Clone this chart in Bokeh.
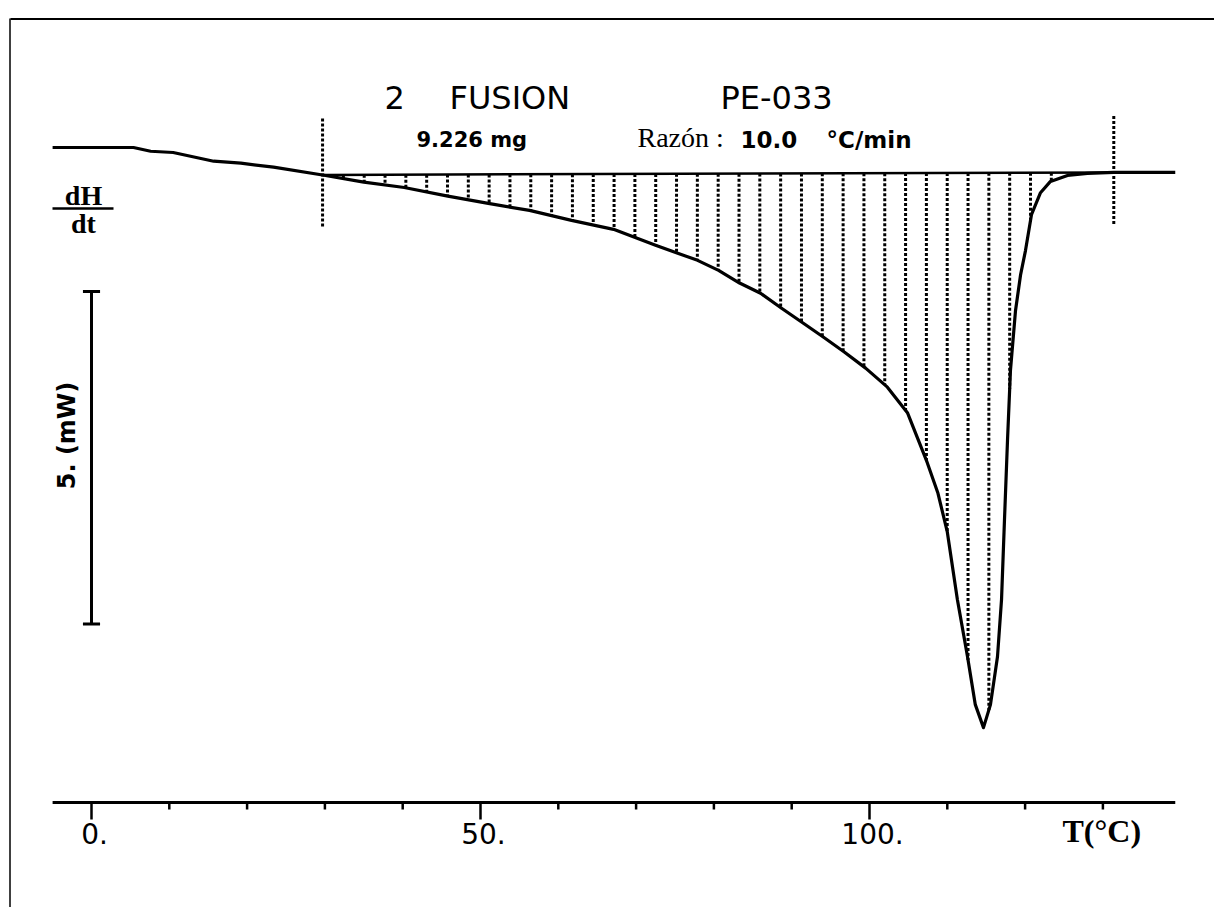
import numpy as np
from bokeh.plotting import figure
from bokeh.models import Label, Range1d
from bokeh.core.properties import value
from bokeh.embed import file_html
from bokeh.resources import INLINE

# ---------------- data ----------------
temp_C = [-5.0, 0.0, 5.4, 7.6, 10.5, 15.7, 19.2, 23.4, 29.7, 35.0, 40.2, 45.8,
          51.0, 56.3, 61.7, 67.1, 72.5, 77.9, 80.6, 83.3, 86.0, 88.7, 91.5,
          94.1, 96.8, 99.5, 102.3, 104.9, 107.3, 108.8, 110.0, 111.3, 112.6, 113.6,
          114.65, 115.55, 116.45, 116.97, 117.35, 117.74, 118.12, 118.77,
          119.41, 120.05, 120.82, 121.98, 123.26, 125.45, 128.0, 131.4, 139.3]
heat_flow_mW = [0.0, 0.0, 0.0, -0.056, -0.075, -0.206, -0.236, -0.296, -0.413,
                -0.521, -0.601, -0.731, -0.841, -0.946, -1.096, -1.231, -1.471,
                -1.697, -1.847, -2.038, -2.192, -2.417, -2.643, -2.853, -3.078,
                -3.318, -3.604, -3.994, -4.700, -5.20, -5.781, -6.802, -7.658, -8.378,
                -8.724, -8.378, -7.658, -6.80, -5.60, -4.40, -3.35, -2.45,
                -1.92, -1.55, -1.01, -0.68, -0.51, -0.42, -0.39, -0.375, -0.375]

limit_start_C = 29.7      # integration limits
limit_end_C = 131.4
n_hatch_intervals = 38

tick_values = [0, 50, 100]
tick_labels = ["0.", "50.", "100."]
minor_tick_values = [10, 20, 30, 40, 60, 70, 80, 90, 110, 120, 130]
axis_start_C, axis_end_C = -5.0, 139.3

scale_bar_mW = 5.0
scale_bar_top_mW = -2.165

title_left = "2"
title_mid = "FUSION"
title_right = "PE-033"
mass_text = "9.226 mg"
rate_label = "Razón :"
rate_value = "10.0"
rate_unit = "°C/min"
x_title = "T(°C)"
y_title_num = "dH"
y_title_den = "dt"
scale_text = "5. (mW)"

# ---------------- geometry helpers (pixels -> data) ----------------
PX0, KX = 91.0, 7.78      # px of 0 °C, px per °C
PY0, KY = 147.0, 66.5     # px of 0 mW, px per mW
W, H = 1214, 907


def X(px):
    return (px - PX0) / KX


def Y(py):
    return (PY0 - py) / KY


p = figure(width=W, height=H, output_backend="svg", toolbar_location=None,
           x_axis_location=None, y_axis_location=None,
           x_range=Range1d(X(0), X(W)), y_range=Range1d(Y(H), Y(0)),
           min_border=0, min_border_left=0, min_border_right=0,
           min_border_top=0, min_border_bottom=0)
p.outline_line_color = None
p.xgrid.visible = False
p.ygrid.visible = False
p.background_fill_color = "white"
p.border_fill_color = "white"

# page border (scan frame): top and left edges
p.segment(x0=[X(10), X(9.5)], y0=[Y(18.5), Y(18)], x1=[X(W), X(9.5)], y1=[Y(18.5), Y(H)],
          line_color="black", line_width=[2, 1.5])

# ---------------- hatch between baseline and curve ----------------
t = np.array(temp_C)
f = np.array(heat_flow_mW)
b0 = np.interp(limit_start_C, t, f)
b1 = np.interp(limit_end_C, t, f)
hatch_x = np.linspace(limit_start_C, limit_end_C, n_hatch_intervals + 1)[1:-1]
hatch_base = b0 + (b1 - b0) * (hatch_x - limit_start_C) / (limit_end_C - limit_start_C)
hatch_curve = np.interp(hatch_x, t, f)
p.segment(x0=hatch_x, y0=hatch_base, x1=hatch_x, y1=hatch_curve,
          line_color="black", line_width=3, line_dash="3 2")

# baseline
p.line([limit_start_C, limit_end_C], [b0, b1], line_color="black", line_width=2.5)

# integration limit markers
lim_up, lim_dn = 0.85, 0.80
p.segment(x0=[limit_start_C, limit_end_C], y0=[b0 + lim_up, b1 + lim_up],
          x1=[limit_start_C, limit_end_C], y1=[b0 - lim_dn, b1 - lim_dn],
          line_color="black", line_width=3, line_dash="3 2")

# DSC curve
p.line(temp_C, heat_flow_mW, line_color="black", line_width=3.2, line_join="round")

# ---------------- x axis drawn at fixed position ----------------
axis_y = Y(802)
p.segment(x0=[axis_start_C], y0=[axis_y], x1=[axis_end_C], y1=[axis_y],
          line_color="black", line_width=3)
p.segment(x0=tick_values, y0=[axis_y] * len(tick_values),
          x1=tick_values, y1=[axis_y - 17 / KY] * len(tick_values),
          line_color="black", line_width=2.5)
p.segment(x0=minor_tick_values, y0=[axis_y] * len(minor_tick_values),
          x1=minor_tick_values, y1=[axis_y - 7 / KY] * len(minor_tick_values),
          line_color="black", line_width=2.5)
p.text(x=tick_values, y=[axis_y - 20 / KY] * len(tick_values), text=tick_labels,
       text_align="center", text_baseline="top", x_offset=3,
       text_font=value("DejaVu Sans"), text_font_size="28px", text_color="black")

p.add_layout(Label(x=X(1062), y=Y(830), text=x_title, text_font="Liberation Serif",
                   text_font_style="bold", text_font_size="32px", text_color="black",
                   text_baseline="alphabetic"))

# ---------------- scale bar ----------------
sb_bot = scale_bar_top_mW - scale_bar_mW
p.segment(x0=[0], y0=[scale_bar_top_mW], x1=[0], y1=[sb_bot],
          line_color="black", line_width=3)
p.segment(x0=[-1.1, -1.1], y0=[scale_bar_top_mW, sb_bot], x1=[1.1, 1.1],
          y1=[scale_bar_top_mW, sb_bot], line_color="black", line_width=3)
p.add_layout(Label(x=X(66), y=Y(435), text=scale_text, angle=np.pi / 2,
                   text_align="center", text_baseline="middle",
                   text_font="DejaVu Sans", text_font_style="bold",
                   text_font_size="24px", text_color="black"))

# ---------------- dH/dt ----------------
p.add_layout(Label(x=X(83), y=Y(195), text=y_title_num, text_align="center",
                   text_baseline="alphabetic", text_font="Liberation Serif",
                   text_font_style="bold", text_font_size="28px", text_color="black"))
p.segment(x0=[X(52)], y0=[Y(208)], x1=[X(113)], y1=[Y(208)], line_color="black", line_width=2.5)
p.add_layout(Label(x=X(83), y=Y(223), text=y_title_den, text_align="center",
                   text_baseline="alphabetic", text_font="Liberation Serif",
                   text_font_style="bold", text_font_size="28px", text_color="black"))

# ---------------- header texts ----------------
for txt, px in [(title_left, 384), (title_mid, 449), (title_right, 720)]:
    p.add_layout(Label(x=X(px), y=Y(97), text=txt, text_font="DejaVu Sans",
                       text_font_size="32px", text_color="black",
                       text_baseline="alphabetic"))
p.add_layout(Label(x=X(416), y=Y(139), text=mass_text, text_font="DejaVu Sans",
                   text_font_style="bold", text_font_size="21px", text_color="black",
                   text_baseline="alphabetic"))
p.add_layout(Label(x=X(637), y=Y(137), text=rate_label, text_font="Liberation Serif",
                   text_font_size="28px", text_color="black", text_baseline="alphabetic"))
p.add_layout(Label(x=X(740), y=Y(139), text=rate_value, text_font="DejaVu Sans",
                   text_font_style="bold", text_font_size="23px", text_color="black",
                   text_baseline="alphabetic"))
p.add_layout(Label(x=X(826), y=Y(139), text=rate_unit, text_font="DejaVu Sans",
                   text_font_style="bold", text_font_size="23px", text_color="black",
                   text_baseline="alphabetic"))

open("out.html", "w").write(file_html(p, INLINE))
